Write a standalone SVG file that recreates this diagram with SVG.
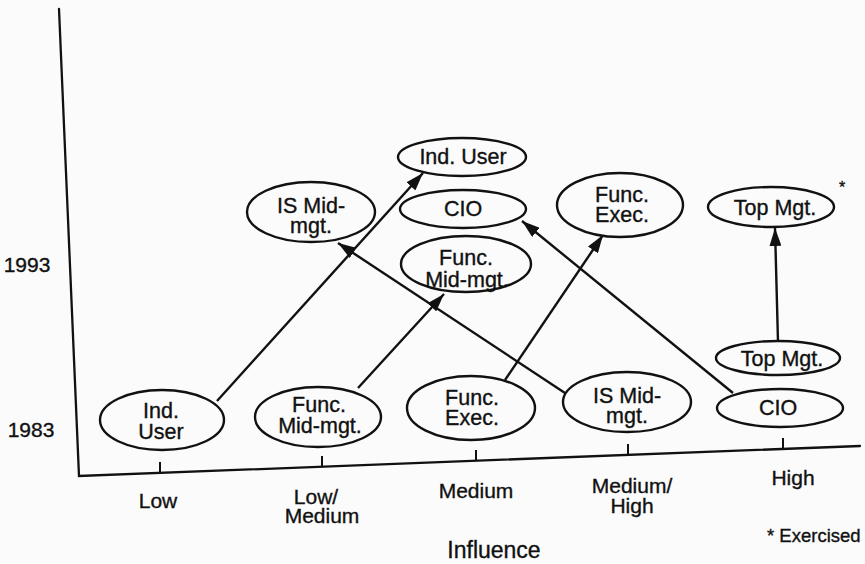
<svg xmlns="http://www.w3.org/2000/svg" width="865" height="564" viewBox="0 0 865 564">
  <style>
    .bg { fill: #fbfbfb; }
    .axis { stroke: #111; stroke-width: 2.3; fill: none; stroke-linecap: round; }
    .tick { stroke: #111; stroke-width: 2; }
    .node ellipse { fill: #fbfbfb; stroke: #111; stroke-width: 2.4; }
    text { font-family: "Liberation Sans", Arial, sans-serif; fill: #111; stroke: #111; stroke-width: 0.35; }
    .lbl { font-size: 21.5px; text-anchor: middle; }
    .axlbl { font-size: 21px; text-anchor: middle; }
    .conn line { stroke: #111; stroke-width: 2.4; marker-end: url(#arrow); }
  </style>
  <defs>
    <marker id="arrow" markerWidth="18" markerHeight="12" refX="18" refY="6" orient="auto" markerUnits="userSpaceOnUse">
      <path d="M0,0 L18,6 L0,12 z" fill="#111"/>
    </marker>
  </defs>

  <rect class="bg" x="0" y="0" width="865" height="564"/>

  <!-- axes and scale labels -->
  <g id="axes">
    <path class="axis" d="M59,9 L79,476 L860,446"/>
    <line class="tick" x1="160" y1="473" x2="160" y2="462"/>
    <line class="tick" x1="322" y1="467" x2="322" y2="456"/>
    <line class="tick" x1="476" y1="461" x2="476" y2="450"/>
    <line class="tick" x1="628" y1="455" x2="628" y2="444"/>
    <line class="tick" x1="783" y1="449" x2="783" y2="438"/>
    <text class="axlbl" x="27" y="272">1993</text>
    <text class="axlbl" x="31" y="437">1983</text>
    <text class="axlbl" x="158" y="508">Low</text>
    <text class="axlbl" x="316" y="504">Low/</text>
    <text class="axlbl" x="322" y="523">Medium</text>
    <text class="axlbl" x="476" y="498">Medium</text>
    <text class="axlbl" x="632" y="493">Medium/</text>
    <text class="axlbl" x="632" y="513">High</text>
    <text class="axlbl" x="793" y="485">High</text>
    <text class="axlbl" x="494" y="558" style="font-size:23px">Influence</text>
    <text x="767" y="542" style="font-size:18.5px">* Exercised</text>
  </g>

  <!-- connectors: 1983 position to 1993 position -->
  <g id="connectors" class="conn">
    <line x1="217" y1="401" x2="423" y2="173"/>
    <line x1="358" y1="388" x2="444" y2="294"/>
    <line x1="505" y1="380" x2="603" y2="235"/>
    <line x1="565" y1="393" x2="338" y2="243"/>
    <line x1="733" y1="393" x2="522" y2="221"/>
    <line x1="778" y1="342" x2="775" y2="228"/>
  </g>

  <!-- 1983 nodes -->
  <g id="ind-user-1983" class="node">
    <ellipse cx="162" cy="420" rx="62" ry="30"/>
    <text class="lbl" x="161" y="418">Ind.</text>
    <text class="lbl" x="161" y="439">User</text>
  </g>
  <g id="func-midmgt-1983" class="node">
    <ellipse cx="318" cy="417" rx="63" ry="30"/>
    <text class="lbl" x="319" y="412">Func.</text>
    <text class="lbl" x="320" y="433">Mid-mgt.</text>
  </g>
  <g id="func-exec-1983" class="node">
    <ellipse cx="471" cy="408" rx="64" ry="32"/>
    <text class="lbl" x="472" y="405">Func.</text>
    <text class="lbl" x="472" y="425">Exec.</text>
  </g>
  <g id="is-midmgt-1983" class="node">
    <ellipse cx="627" cy="402" rx="64" ry="30"/>
    <text class="lbl" x="627" y="403">IS Mid-</text>
    <text class="lbl" x="627" y="423">mgt.</text>
  </g>
  <g id="cio-1983" class="node">
    <ellipse cx="780" cy="408" rx="63" ry="19"/>
    <text class="lbl" x="778" y="415">CIO</text>
  </g>
  <g id="top-mgt-1983" class="node">
    <ellipse cx="778" cy="358" rx="62" ry="17"/>
    <text class="lbl" x="782" y="366">Top Mgt.</text>
  </g>

  <!-- 1993 nodes -->
  <g id="is-midmgt-1993" class="node">
    <ellipse cx="311" cy="212" rx="64" ry="30"/>
    <text class="lbl" x="311" y="213">IS Mid-</text>
    <text class="lbl" x="311" y="233">mgt.</text>
  </g>
  <g id="ind-user-1993" class="node">
    <ellipse cx="462" cy="157" rx="64" ry="19"/>
    <text class="lbl" x="463" y="164">Ind. User</text>
  </g>
  <g id="cio-1993" class="node">
    <ellipse cx="463" cy="209" rx="63" ry="19"/>
    <text class="lbl" x="463" y="216">CIO</text>
  </g>
  <g id="func-midmgt-1993" class="node">
    <ellipse cx="466" cy="264" rx="65" ry="28"/>
    <text class="lbl" x="466" y="265">Func.</text>
    <text class="lbl" x="467" y="287">Mid-mgt.</text>
  </g>
  <g id="func-exec-1993" class="node">
    <ellipse cx="620" cy="205" rx="63" ry="32"/>
    <text class="lbl" x="622" y="202">Func.</text>
    <text class="lbl" x="622" y="222">Exec.</text>
  </g>
  <g id="top-mgt-1993" class="node">
    <ellipse cx="771" cy="207" rx="63" ry="20"/>
    <text class="lbl" x="775" y="215">Top Mgt.</text>
    <text x="839" y="193" style="font-size:16px">*</text>
  </g>
</svg>
